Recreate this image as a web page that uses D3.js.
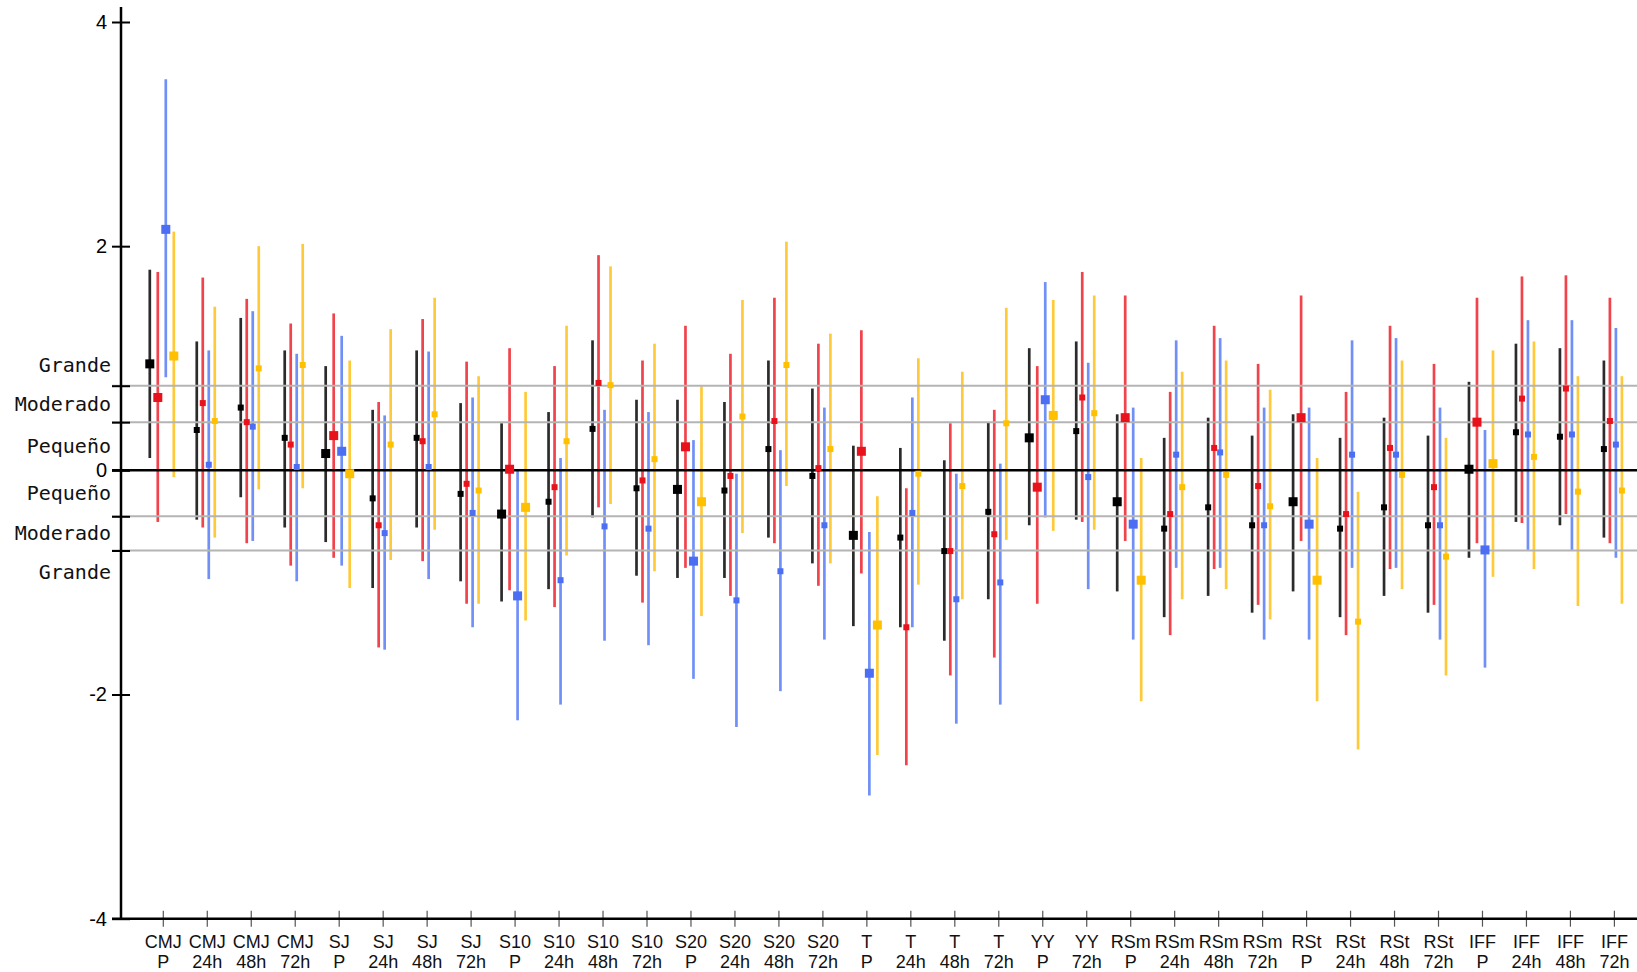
<!DOCTYPE html>
<html>
<head>
<meta charset="utf-8">
<script src="https://cdn.jsdelivr.net/npm/d3@7"></script>
<style>
  body { margin: 0; background: #fff; }
  svg { display: block; }
</style>
</head>
<body>
<svg id="chart"></svg>
<script>
// categories (test / time point)
const tests = ["CMJ","CMJ","CMJ","CMJ","SJ","SJ","SJ","SJ","S10","S10","S10","S10",
  "S20","S20","S20","S20","T","T","T","T","YY","YY","RSm","RSm","RSm","RSm",
  "RSt","RSt","RSt","RSt","IFF","IFF","IFF","IFF"];
const times = ["P","24h","48h","72h","P","24h","48h","72h","P","24h","48h","72h",
  "P","24h","48h","72h","P","24h","48h","72h","P","72h","P","24h","48h","72h",
  "P","24h","48h","72h","P","24h","48h","72h"];

// group 1 (black)
const g1Mean = [0.95,0.36,0.56,0.29,0.15,-0.25,0.29,-0.21,-0.39,-0.28,0.37,-0.16,
  -0.17,-0.18,0.19,-0.05,-0.58,-0.60,-0.72,-0.37,0.29,0.35,-0.28,-0.52,-0.33,-0.49,
  -0.28,-0.52,-0.33,-0.49,0.01,0.34,0.30,0.19];
const g1Lo = [0.11,-0.44,-0.24,-0.51,-0.64,-1.05,-0.51,-0.99,-1.17,-1.06,-0.42,-0.94,
  -0.96,-0.96,-0.60,-0.83,-1.39,-1.40,-1.52,-1.15,-0.49,-0.44,-1.08,-1.31,-1.12,-1.27,
  -1.08,-1.31,-1.12,-1.27,-0.78,-0.46,-0.49,-0.60];
const g1Hi = [1.79,1.15,1.36,1.07,0.93,0.54,1.07,0.60,0.42,0.52,1.16,0.63,
  0.63,0.61,0.98,0.73,0.22,0.20,0.09,0.43,1.09,1.15,0.50,0.29,0.47,0.31,
  0.50,0.29,0.47,0.31,0.79,1.13,1.09,0.98];

// group 2 (red)
const g2Mean = [0.65,0.60,0.43,0.23,0.31,-0.49,0.26,-0.12,0.01,-0.15,0.78,-0.09,
  0.21,-0.05,0.44,0.02,0.17,-1.40,-0.72,-0.57,-0.15,0.65,0.47,-0.39,0.20,-0.14,
  0.47,-0.39,0.20,-0.15,0.43,0.64,0.73,0.44];
const g2Lo = [-0.46,-0.51,-0.65,-0.85,-0.78,-1.58,-0.81,-1.19,-1.07,-1.22,-0.33,-1.18,
  -0.87,-1.12,-0.65,-1.03,-0.92,-2.63,-1.83,-1.67,-1.19,-0.46,-0.63,-1.47,-0.88,-1.20,
  -0.63,-1.47,-0.88,-1.20,-0.65,-0.47,-0.39,-0.65];
const g2Hi = [1.77,1.72,1.53,1.31,1.40,0.61,1.35,0.97,1.09,0.93,1.92,0.98,
  1.29,1.04,1.54,1.13,1.25,-0.16,0.42,0.54,0.93,1.77,1.56,0.70,1.29,0.95,
  1.56,0.70,1.29,0.95,1.54,1.73,1.74,1.54];

// group 3 (blue)
const g3Mean = [2.15,0.05,0.39,0.03,0.17,-0.56,0.03,-0.38,-1.12,-0.98,-0.50,-0.52,
  -0.81,-1.16,-0.90,-0.49,-1.81,-0.38,-1.15,-1.00,0.63,-0.06,-0.48,0.14,0.16,-0.49,
  -0.48,0.14,0.14,-0.49,-0.71,0.32,0.32,0.23];
const g3Lo = [0.83,-0.97,-0.63,-0.99,-0.85,-1.60,-0.97,-1.40,-2.23,-2.09,-1.52,-1.56,
  -1.86,-2.29,-1.97,-1.51,-2.90,-1.40,-2.26,-2.09,-0.42,-1.06,-1.51,-0.87,-0.87,-1.51,
  -1.51,-0.87,-0.87,-1.51,-1.76,-0.71,-0.71,-0.78];
const g3Hi = [3.49,1.07,1.42,1.04,1.20,0.49,1.06,0.65,0.00,0.11,0.54,0.52,
  0.27,-0.03,0.18,0.56,-0.55,0.65,-0.03,0.06,1.68,0.96,0.56,1.16,1.18,0.56,
  0.56,1.16,1.18,0.56,0.36,1.34,1.34,1.27];

// group 4 (yellow)
const g4Mean = [1.02,0.44,0.91,0.94,-0.03,0.23,0.50,-0.18,-0.33,0.26,0.76,0.10,
  -0.28,0.48,0.94,0.19,-1.38,-0.03,-0.14,0.42,0.49,0.51,-0.98,-0.15,-0.04,-0.32,
  -0.98,-1.35,-0.04,-0.77,0.06,0.12,-0.19,-0.18];
const g4Lo = [-0.06,-0.60,-0.17,-0.16,-1.05,-0.80,-0.53,-1.19,-1.34,-0.76,-0.30,-0.90,
  -1.30,-0.56,-0.14,-0.83,-2.54,-1.02,-1.15,-0.62,-0.54,-0.53,-2.06,-1.15,-1.06,-1.33,
  -2.06,-2.49,-1.06,-1.83,-0.95,-0.88,-1.21,-1.19];
const g4Hi = [2.13,1.46,2.00,2.02,0.98,1.26,1.54,0.84,0.70,1.29,1.82,1.13,
  0.75,1.52,2.04,1.22,-0.23,1.00,0.88,1.45,1.52,1.56,0.11,0.88,0.98,0.72,
  0.11,-0.19,0.98,0.29,1.07,1.15,0.84,0.84];

// effect size thresholds and their labels
const thresholds = [0.755, 0.43, -0.41, -0.715];
const bandLabels = ["Grande", "Moderado", "Pequeño", "Pequeño", "Moderado", "Grande"];
const yTickValues = [4, 2, 0, -2, -4];

const groups = [
  {mean: g1Mean, lo: g1Lo, hi: g1Hi, line: "#2b2b2b", fill: "#000000"},
  {mean: g2Mean, lo: g2Lo, hi: g2Hi, line: "#f0434b", fill: "#e8121c"},
  {mean: g3Mean, lo: g3Lo, hi: g3Hi, line: "#7190f7", fill: "#4b6ef3"},
  {mean: g4Mean, lo: g4Lo, hi: g4Hi, line: "#ffca3a", fill: "#ffc000"}
];

const width = 1637, height = 972;
const axisX = 121, axisY = 918.7;

const svg = d3.select("#chart")
  .attr("width", width)
  .attr("height", height)
  .attr("font-family", "'DejaVu Sans', Verdana, sans-serif");

const x = d3.scalePoint()
  .domain(d3.range(tests.length))
  .range([162.8, 1613.9]);

const y = d3.scaleLinear()
  .domain([-4, 4])
  .range([axisY, 22]);

// error bars first
const bars = svg.append("g");
groups.forEach((g, s) => {
  bars.append("g")
    .selectAll("line")
    .data(d3.range(tests.length))
    .join("line")
    .attr("x1", i => x(i) + offset(s, i))
    .attr("x2", i => x(i) + offset(s, i))
    .attr("y1", i => y(g.lo[i]))
    .attr("y2", i => y(g.hi[i]))
    .attr("stroke", g.line)
    .attr("stroke-width", 2.7);
});

function offset(s, i) {
  const gap = times[i] === "P" ? 8 : 6;
  return (s - 1.5) * gap - 1;
}

// threshold lines
svg.append("g")
  .selectAll("line")
  .data(thresholds)
  .join("line")
  .attr("x1", axisX - 9)
  .attr("x2", width)
  .attr("y1", d => y(d))
  .attr("y2", d => y(d))
  .attr("stroke", "#b4b4b4")
  .attr("stroke-width", 2);

// zero line
svg.append("line")
  .attr("x1", axisX - 9)
  .attr("x2", width)
  .attr("y1", y(0))
  .attr("y2", y(0))
  .attr("stroke", "#000")
  .attr("stroke-width", 2.5);

// band labels
const labelPos = [
  y(thresholds[0]) - 21,
  y((thresholds[0] + thresholds[1]) / 2),
  y(thresholds[1] / 2),
  y(thresholds[2] / 2),
  y((thresholds[2] + thresholds[3]) / 2),
  y(thresholds[3]) + 22
];
svg.append("g")
  .selectAll("text")
  .data(bandLabels)
  .join("text")
  .attr("x", 111)
  .attr("y", (d, i) => labelPos[i])
  .attr("dy", "0.35em")
  .attr("text-anchor", "end")
  .attr("font-family", "'DejaVu Sans Mono', monospace")
  .attr("font-size", 20)
  .attr("fill", "#111")
  .text(d => d);

// y axis
const yAxis = svg.append("g")
  .attr("transform", `translate(${axisX},0)`)
  .call(d3.axisLeft(y)
    .tickValues(yTickValues.concat(thresholds))
    .tickSize(9)
    .tickPadding(5)
    .tickFormat(d => yTickValues.includes(d) ? String(d) : ""));
yAxis.select(".domain").remove();
yAxis.selectAll(".tick line")
  .attr("x1", 9)
  .attr("stroke", "#000")
  .attr("stroke-width", 2);
yAxis.selectAll(".tick text")
  .attr("font-size", 20)
  .attr("fill", "#000");
yAxis.append("line")
  .attr("y1", 7)
  .attr("y2", axisY)
  .attr("stroke", "#000")
  .attr("stroke-width", 2.5);

// x axis
const xAxis = svg.append("g")
  .attr("transform", `translate(0,${axisY})`)
  .call(d3.axisBottom(x).tickSize(8).tickFormat(""));
xAxis.select(".domain").remove();
xAxis.selectAll(".tick line")
  .attr("y1", -8)
  .attr("stroke", "#555")
  .attr("stroke-width", 1.2);
xAxis.append("line")
  .attr("x1", axisX - 9)
  .attr("x2", width)
  .attr("stroke", "#000")
  .attr("stroke-width", 2.5);
const tickText = xAxis.selectAll(".tick")
  .append("text")
  .attr("text-anchor", "middle")
  .attr("font-size", 18)
  .attr("fill", "#111");
tickText.append("tspan")
  .attr("x", 0)
  .attr("y", 29.5)
  .text(i => tests[i]);
tickText.append("tspan")
  .attr("x", 0)
  .attr("y", 49.5)
  .text(i => times[i]);

// point estimates on top
groups.forEach((g, s) => {
  svg.append("g")
    .selectAll("rect")
    .data(d3.range(tests.length))
    .join("rect")
    .attr("x", i => x(i) + offset(s, i) - markSize(i) / 2)
    .attr("y", i => y(g.mean[i]) - markSize(i) / 2)
    .attr("width", i => markSize(i))
    .attr("height", i => markSize(i))
    .attr("fill", g.fill);
});

function markSize(i) {
  return times[i] === "P" ? 9 : 6;
}
</script>
</body>
</html>
